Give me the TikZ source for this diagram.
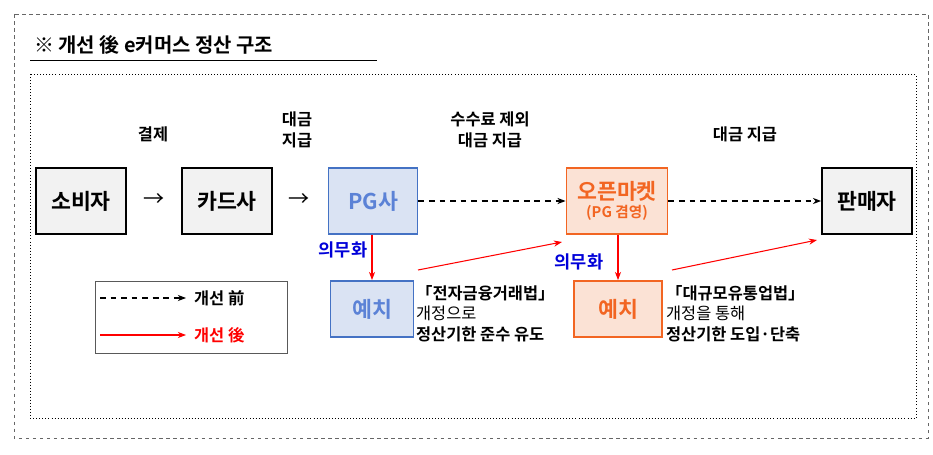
\documentclass[tikz,border=0pt]{standalone}
\usepackage{fontspec}
\setmainfont{Noto Sans CJK KR}
\newfontfamily\kb{Noto Sans CJK KR Bold}
\usetikzlibrary{arrows.meta}
\definecolor{bl}{HTML}{4472C4}
\definecolor{blt}{HTML}{5B82D6}
\definecolor{blf}{HTML}{DAE3F3}
\definecolor{or}{HTML}{F26522}
\definecolor{orf}{HTML}{FBE2D5}
\definecolor{gf}{HTML}{F2F2F2}
\begin{document}
\begin{tikzpicture}[x=0.03cm,y=-0.03cm,
  box/.style={draw=black,line width=1.6pt,fill=gf,minimum width=2.7cm,minimum height=1.98cm,font=\kb\fontsize{18.5}{20}\selectfont},
  dar/.style={dashed,line width=0.9pt,-{Stealth[length=7pt]},dash pattern=on 5pt off 4pt},
  rar/.style={red,line width=0.9pt,-{Stealth[length=7pt]}},
  lab/.style={font=\kb\fontsize{14}{18}\selectfont,align=center},
  note/.style={font=\fontsize{14}{17.5}\selectfont,align=left,anchor=north west}]
\useasboundingbox (0,0) rectangle (933,455);
\draw[dashed,gray!80!black,line width=0.6pt] (14,14) rectangle (928,438);
\node[anchor=west,font=\kb\fontsize{17}{18}\selectfont] (title) at (30,45) {※ 개선 後 e커머스 정산 구조};
\draw[line width=0.8pt] (30,60) -- (377,60);
\draw[dotted,line width=0.6pt] (30,74) rectangle (916,418);
\node[box] (a) at (81,201) {소비자};
\node[box] (b) at (227,201) {카드사};
\node[box,draw=bl,fill=blf,text=blt,minimum width=2.67cm] (c) at (373,201) {PG사};
\node[box,draw=or,fill=orf,text=or,minimum width=3.03cm,align=center] (d) at (617,201) {오픈마켓\\[-4pt]{\fontsize{12.5}{13}\selectfont (PG 겸영)}};
\node[box] (e) at (867,201) {판매자};
\node[box,draw=bl,fill=blf,text=blt,minimum width=2.49cm,minimum height=1.68cm] (f) at (372,309) {예치};
\node[box,draw=or,fill=orf,text=or,minimum width=2.64cm,minimum height=1.68cm] (g) at (618,309) {예치};
\node[font=\fontsize{18}{20}\selectfont] (ar1) at (154,200) {→};
\node[font=\fontsize{18}{20}\selectfont] (ar2) at (299,200) {→};
\node[lab] (l1) at (153,134) {결제};
\node[lab] (l2) at (297,130) {대금\\지급};
\node[lab] (l3) at (490,130) {수수료 제외\\대금 지급};
\node[lab] (l4) at (745,134) {대금 지급};
\draw[dar] (c.east) -- (d.west);
\draw[dar] (d.east) -- (e.west);
\draw[rar] (c.south -| f.north) -- (f.north);
\draw[rar] (d.south -| g.north) -- (g.north);
\node[lab,text=blue!85!black,font=\kb\fontsize{15}{18}\selectfont] (m1) at (343,250) {의무화};
\node[lab,text=blue!85!black,font=\kb\fontsize{15}{18}\selectfont] (m2) at (579,262) {의무화};
\coordinate (p1) at (418,270); \coordinate (q1) at (562,242);
\coordinate (p2) at (672,270); \coordinate (q2) at (817,240);
\draw[rar] (p1) -- (q1);
\draw[rar] (p2) -- (q2);
\node[note] (n1) at (412,281) {{\kb 「전자금융거래법」}\\개정으로\\{\kb 정산기한 준수 유도}};
\node[note] (n2) at (662,281) {{\kb 「대규모유통업법」}\\개정을 통해\\{\kb 정산기한 도입·단축}};
\draw[gray!70!black,line width=0.6pt] (95,281) rectangle (287,353);
\coordinate (la) at (100,298); \coordinate (lb) at (186,298);
\coordinate (lc) at (100,335); \coordinate (ld) at (186,335);
\draw[dar] (la) -- (lb);
\draw[rar] (lc) -- (ld);
\node[lab,anchor=west] (t1) at (190,298) {개선 前};
\node[lab,anchor=west,text=red] (t2) at (190,335) {개선 後};
\end{tikzpicture}
\end{document}
